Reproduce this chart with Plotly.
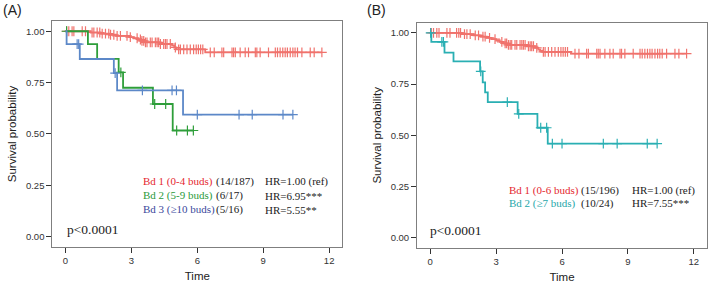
import plotly.graph_objects as go
import bisect

# ---------------- Data ----------------
# Panel A
a_red_event_t = [1.15, 1.6, 2.0, 2.3, 2.9, 3.1, 3.3, 3.45, 3.6, 4.3, 4.85, 4.95, 5.05, 6.36]
a_red_event_s = [0.994, 0.989, 0.983, 0.978, 0.972, 0.966, 0.960, 0.953, 0.946, 0.938, 0.930, 0.921, 0.912, 0.897]
a_red_censor_t = [0.05, 0.15, 0.3, 0.38, 0.76, 0.91, 1.21, 1.29, 1.44, 1.56, 1.67, 1.82, 1.97, 2.05,
                  2.2, 2.35, 2.5, 2.8, 2.95, 3.26, 3.41, 3.48, 3.56, 3.64, 3.71, 3.86, 3.94, 4.09,
                  4.17, 4.24, 4.32, 4.47, 4.55, 4.62, 4.77, 5.0, 5.15, 5.23, 5.38, 5.53, 5.68, 5.83,
                  5.95, 6.05, 6.15, 6.25, 6.59, 6.77, 7.12, 7.2, 7.58, 7.65, 7.73, 7.95, 8.18, 8.33,
                  8.64, 8.71, 8.86, 9.24, 9.55, 9.65, 9.77, 9.89, 10.0, 10.1, 10.23, 10.35, 10.45,
                  10.56, 10.76, 11.14, 11.32, 11.67]

a_green_event_t = [1.02, 1.44, 2.42, 2.62, 3.98, 4.88]
a_green_event_s = [0.9375, 0.866, 0.800, 0.725, 0.646, 0.517]
a_green_censor_t = [0.05, 2.52, 4.06, 4.56, 5.06, 5.55, 5.82]

a_blue_event_t = [0.05, 0.65, 2.2, 2.35, 5.35]
a_blue_event_s = [0.9375, 0.865, 0.796, 0.712, 0.594]
a_blue_censor_t = [0.53, 0.6, 2.26, 3.5, 4.85, 5.05, 6.0, 7.9, 8.5, 9.9, 10.35]

# Panel B
b_red_event_t = [1.44, 1.97, 2.3, 2.58, 2.8, 3.0, 3.17, 3.33, 3.5, 4.4, 4.77, 4.92, 5.0, 5.1, 6.41]
b_red_event_s = [0.994, 0.988, 0.982, 0.976, 0.970, 0.963, 0.956, 0.949, 0.942, 0.935, 0.927,
                 0.919, 0.913, 0.908, 0.899]
b_red_censor_t = [0.05, 0.15, 0.3, 0.4, 0.76, 0.9, 1.2, 1.3, 1.38, 1.56, 1.67, 1.82, 2.05,
                  2.2, 2.4, 2.5, 2.7, 2.95, 3.26, 3.41, 3.48, 3.56, 3.64, 3.71, 3.86, 3.94, 4.09,
                  4.17, 4.24, 4.32, 4.47, 4.55, 4.62, 4.7, 4.85, 5.15, 5.23, 5.38, 5.53, 5.68, 5.83,
                  5.95, 6.05, 6.15, 6.25, 6.59, 6.77, 7.12, 7.2, 7.58, 7.65, 7.73, 7.95, 8.18, 8.33,
                  8.64, 8.71, 8.86, 9.24, 9.55, 9.65, 9.77, 9.89, 10.0, 10.1, 10.23, 10.35, 10.45,
                  10.56, 10.76, 11.14, 11.32, 11.67]

b_teal_event_t = [0.05, 0.65, 1.06, 2.27, 2.39, 2.5, 2.62, 3.98, 4.88, 5.35]
b_teal_event_s = [0.956, 0.904, 0.861, 0.812, 0.759, 0.710, 0.662, 0.605, 0.537, 0.460]
b_teal_censor_t = [0.02, 0.53, 0.6, 2.3, 3.51, 4.03, 5.03, 5.3, 5.56, 6.0, 7.88, 8.51, 9.88, 10.33]

# Legend / annotation text
a_labels = ["Bd 1 (0-4 buds)", "Bd 2 (5-9 buds)", "Bd 3 (\u226510 buds)"]
a_counts = ["(14/187)", "(6/17)", "(5/16)"]
a_hr = ["HR=1.00 (ref)", "HR=6.95***", "HR=5.55**"]
b_labels = ["Bd 1 (0-6 buds)", "Bd 2 (\u22657 buds)"]
b_counts = ["(15/196)", "(10/24)"]
b_hr = ["HR=1.00 (ref)", "HR=7.55***"]
p_text = "p<0.0001"

x_ticks = [0, 3, 6, 9, 12]
y_ticks = [0, 0.25, 0.5, 0.75, 1.0]
y_ticklabels = ["0.00", "0.25", "0.50", "0.75", "1.00"]

# ---------------- Styling ----------------
RED_LINE = "#F0726C"
GREEN_LINE = "#2E9E3A"
BLUE_LINE = "#5C88C8"
TEAL_LINE = "#2AAFB3"
RED_TXT = "#E5272F"
GREEN_TXT = "#2A9A3A"
BLUE_TXT = "#3A489C"
TEAL_TXT = "#26A7AA"
DARK = "#222222"
SERIF = "Liberation Serif, Times New Roman, serif"
SANS = "Liberation Sans, Arial, sans-serif"

fig = go.Figure()


def surv_at(t, ev_t, ev_s):
    i = bisect.bisect_right(ev_t, t)
    return 1.0 if i == 0 else ev_s[i - 1]


def add_km(ev_t, ev_s, cens_t, color, xa, ya):
    t_end = max(ev_t[-1], cens_t[-1])
    xs = [0] + ev_t + [t_end]
    ys = [1.0] + ev_s + [ev_s[-1]]
    fig.add_trace(go.Scatter(x=xs, y=ys, mode="lines", line=dict(color=color, width=1.8, shape="hv"),
                             xaxis=xa, yaxis=ya, showlegend=False, hoverinfo="skip"))
    cy = [surv_at(t, ev_t, ev_s) for t in cens_t]
    fig.add_trace(go.Scatter(x=cens_t, y=cy, mode="markers",
                             marker=dict(symbol="cross-thin", size=7, line=dict(color=color, width=1.2)),
                             xaxis=xa, yaxis=ya, showlegend=False, hoverinfo="skip"))


add_km(a_red_event_t, a_red_event_s, a_red_censor_t, RED_LINE, "x", "y")
add_km(a_green_event_t, a_green_event_s, a_green_censor_t, GREEN_LINE, "x", "y")
add_km(a_blue_event_t, a_blue_event_s, a_blue_censor_t, BLUE_LINE, "x", "y")
add_km(b_red_event_t, b_red_event_s, b_red_censor_t, RED_LINE, "x2", "y2")
add_km(b_teal_event_t, b_teal_event_s, b_teal_censor_t, TEAL_LINE, "x2", "y2")

axis_common = dict(
    showline=True, mirror=True, linecolor="#7F7F7F", linewidth=1,
    ticks="outside", ticklen=5, tickwidth=1, tickcolor="#333333",
    showgrid=False, zeroline=False,
    tickfont=dict(family=SANS, size=9.5, color="#333333"),
)

fig.update_layout(
    width=709, height=283,
    margin=dict(l=0, r=0, t=0, b=0),
    paper_bgcolor="white", plot_bgcolor="white",
    xaxis=dict(domain=[0.0738, 0.4828], range=[-0.6, 12.6], tickvals=x_ticks, anchor="y",
               title=dict(text="Time", font=dict(family=SANS, size=11.5, color=DARK), standoff=6),
               **axis_common),
    yaxis=dict(domain=[0.1272, 0.9258], range=[-0.05, 1.05], tickvals=y_ticks, ticktext=y_ticklabels,
               anchor="x",
               title=dict(text="Survival probability", font=dict(family=SANS, size=11.5, color=DARK), standoff=6),
               **axis_common),
    xaxis2=dict(domain=[0.5882, 0.9972], range=[-0.6, 12.6], tickvals=x_ticks, anchor="y2",
                title=dict(text="Time", font=dict(family=SANS, size=11.5, color=DARK), standoff=6),
                **axis_common),
    yaxis2=dict(domain=[0.1237, 0.9198], range=[-0.05, 1.05], tickvals=y_ticks, ticktext=y_ticklabels,
                anchor="x2",
                title=dict(text="Survival probability", font=dict(family=SANS, size=11.5, color=DARK), standoff=6),
                **axis_common),
)

annotations = []


def txt(x, y, text, color, xref, yref, size=11, family=SERIF):
    annotations.append(dict(x=x, y=y, xref=xref, yref=yref, text=text, showarrow=False,
                            xanchor="left", yanchor="middle", borderpad=0,
                            font=dict(family=family, size=size, color=color)))


# Panel A legend text
a_rows_y = [0.267, 0.200, 0.132]
a_colors = [RED_TXT, GREEN_TXT, BLUE_TXT]
for lab, cnt, hr, yy, col in zip(a_labels, a_counts, a_hr, a_rows_y, a_colors):
    txt(3.49, yy, lab, col, "x", "y")
    txt(6.8, yy, cnt, DARK, "x", "y")
    txt(9.05, yy, hr, DARK, "x", "y")
txt(0.03, 0.035, p_text, DARK, "x", "y", size=13.5)

# Panel B legend text
b_rows_y = [0.233, 0.168]
b_colors = [RED_TXT, TEAL_TXT]
for lab, cnt, hr, yy, col in zip(b_labels, b_counts, b_hr, b_rows_y, b_colors):
    txt(3.56, yy, lab, col, "x2", "y2")
    txt(6.8, yy, cnt, DARK, "x2", "y2")
    txt(9.12, yy, hr, DARK, "x2", "y2")
txt(-0.05, 0.035, p_text, DARK, "x2", "y2", size=13.5)

# Panel letters
annotations.append(dict(x=1 / 709, y=1 - 9.5 / 283, xref="paper", yref="paper", text="(A)", showarrow=False,
                        xanchor="left", yanchor="middle", font=dict(family=SANS, size=14, color=DARK)))
annotations.append(dict(x=365 / 709, y=1 - 9.5 / 283, xref="paper", yref="paper", text="(B)", showarrow=False,
                        xanchor="left", yanchor="middle", font=dict(family=SANS, size=14, color=DARK)))

fig.update_layout(annotations=annotations)

fig.write_html("out.html",
               config={"displayModeBar": False},
               post_script="document.body.style.margin='0';document.body.style.padding='0';"
                           "document.body.style.overflow='hidden';")
